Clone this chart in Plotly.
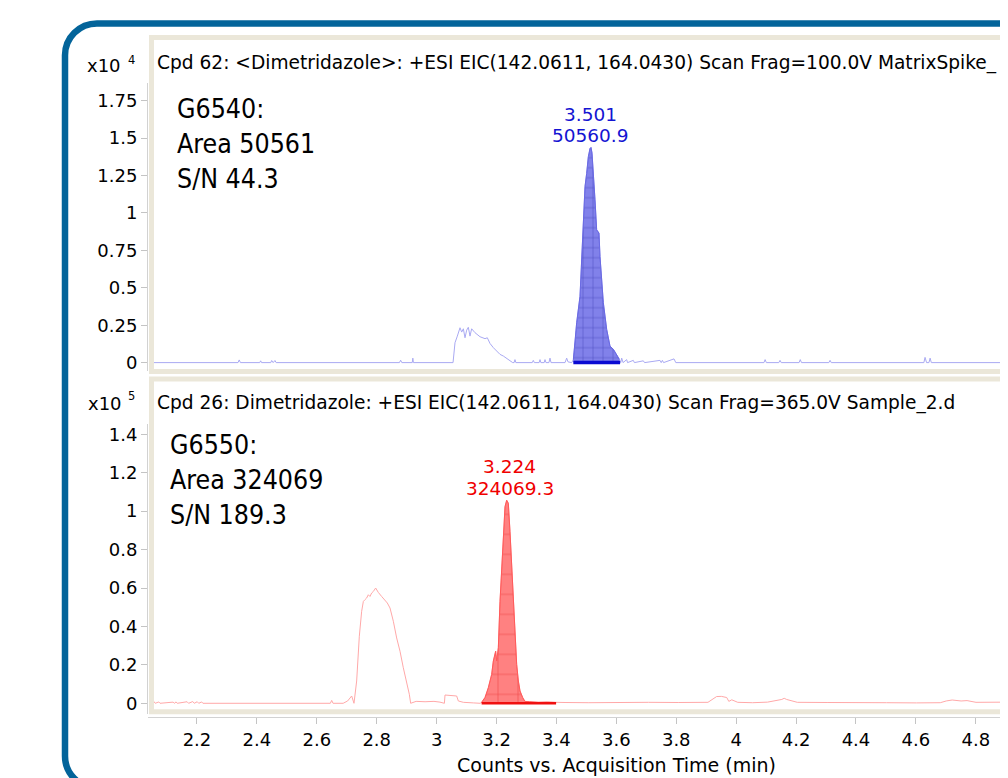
import plotly.graph_objects as go

# The page body has an 8 px margin, so the figure is drawn 8 px in from the window corner.
OFF = 8
W, H = 1008 - OFF, 778 - OFF


def px(x):
    return (x - OFF) / W


def py(y):
    return 1 - (y - OFF) / H


# ---------------- data ----------------
top_time = [2.036, 2.322, 2.326, 2.330, 2.395, 2.398, 2.401, 2.432, 2.435, 2.440, 2.446, 2.450,
            2.864, 2.868, 2.872, 2.907, 2.909, 2.911, 3.044, 3.0506, 3.0584, 3.0674, 3.0730, 3.0786,
            3.0842, 3.0898, 3.0953, 3.1009, 3.1065, 3.1177, 3.1345, 3.1513, 3.1591, 3.1681, 3.1793,
            3.1905, 3.2017, 3.2129, 3.2241, 3.2353, 3.2443, 3.2490, 3.2520, 3.2550, 3.3100, 3.3135,
            3.3170, 3.3330, 3.3360, 3.3390, 3.3500, 3.3528, 3.3560, 3.3660, 3.3696, 3.3730, 3.4200,
            3.4256, 3.4300, 3.4425, 3.4480, 3.4535, 3.4591, 3.4703, 3.4793, 3.4871, 3.4927, 3.4983,
            3.5039, 3.5073, 3.5106, 3.5151, 3.5207, 3.5263, 3.5341, 3.5375, 3.5431, 3.5487, 3.5599,
            3.5711, 3.5823, 3.5935, 3.6025, 3.6070, 3.6103, 3.6150, 3.6270, 3.6300, 3.6493, 3.6530,
            3.6830, 3.6870, 3.7390, 3.7430, 3.7470, 3.7510, 3.7860, 3.7920, 4.088, 4.092, 4.096,
            4.138, 4.142, 4.146, 4.206, 4.210, 4.214, 4.306, 4.310, 4.314, 4.625, 4.629, 4.634,
            4.642, 4.646, 4.650, 4.9075]
top_counts = [0, 0, 180, 0, 0, 120, 0, 0, 140, 0, 140, 0,
              0, 160, 0, 0, 300, 0, 0, 1330, 1770, 2330, 2040, 2260,
              1660, 2170, 2360, 1770, 2260, 2000, 1730, 1600, 1660, 1280, 1000,
              770, 550, 440, 270, 110, 0, 0, 200, 0, 0, 150,
              0, 0, 200, 0, 0, 200, 0, 0, 300, 0, 0,
              300, 50, 0, 200, 1330, 2660, 4430, 8200, 11750, 12640, 13750,
              14300, 14370, 14000, 12200, 10870, 8870, 8650, 7090, 5320, 4000, 2220,
              1100, 890, 550, 220, 0, 300, 0, 200, 0, 150, 0,
              120, 0, 150, 0, 150, 0, 250, 0, 0, 200, 0,
              0, 150, 0, 0, 200, 0, 0, 150, 0, 0, 350, 0,
              0, 300, 0, 0]
top_peak_rt = 3.501
top_peak_area = 50560.9
top_integration = [3.448, 3.605]

bottom_time = [2.036, 2.040, 2.044, 2.056, 2.060, 2.104, 2.108, 2.114, 2.118, 2.151, 2.156, 2.170,
               2.175, 2.185, 2.190, 2.200, 2.204, 2.632, 2.6365, 2.641, 2.675, 2.690, 2.7036, 2.7114,
               2.7204, 2.7260, 2.7293, 2.7372, 2.7428, 2.7480, 2.7539, 2.7595, 2.7651, 2.7707, 2.7763,
               2.7842, 2.7931, 2.8043, 2.8155, 2.8233, 2.8323, 2.8435, 2.8547, 2.8659, 2.8770, 2.8883,
               2.8972, 2.9017, 2.92, 2.95, 2.98, 3.0, 3.015, 3.017, 3.0338, 3.0562, 3.0618, 3.0786,
               3.112, 3.135, 3.1401, 3.1513, 3.1625, 3.1737, 3.1793, 3.1871, 3.1905, 3.1961, 3.2017,
               3.2073, 3.2129, 3.2185, 3.2241, 3.2297, 3.2353, 3.2409, 3.2465, 3.2521, 3.2577, 3.2633,
               3.2689, 3.2778, 3.2852, 3.30, 3.33, 3.36, 3.39, 3.42, 3.5, 3.6, 3.638, 3.7, 3.8, 3.9,
               3.929, 3.945, 3.963, 3.97, 3.98, 4.0, 4.05, 4.10, 4.148, 4.156, 4.164, 4.2, 4.3, 4.4,
               4.5, 4.6, 4.68, 4.70, 4.72, 4.75, 4.77, 4.80, 4.9075]
bottom_counts = [0, 800, 0, 700, 0, 600, 0, 700, 0, 800, 0, 900,
                 0, 800, 0, 700, 0, 0, 1500, 0, 0, 1200, 3800, 0,
                 11600, 28900, 34900, 47900, 53000, 53900, 54800, 56500, 55600, 57400, 58200,
                 60000, 57700, 55600, 53900, 52200, 49600, 42700, 34000, 27100, 18500, 11600,
                 4700, 0, 1000, 800, 1000, 600, 0, 4300, 4100, 3800, 1200, 500,
                 200, 0, 500, 3000, 8100, 15000, 22000, 27100, 22000, 28900, 53000,
                 72000, 91000, 102300, 105700, 104100, 89300, 72000, 49600, 32300, 20200, 11600,
                 6400, 3000, 1000, 800, 500, 600, 400, 400, 300, 400, 800, 500, 400, 500,
                 3500, 3600, 3000, 1000, 1800, 500, 300, 600, 2000, 2600, 2000, 500, 400, 500,
                 300, 200, 300, 1200, 1700, 1200, 1400, 500, 600]
bottom_peak_rt = 3.224
bottom_peak_area = 324069.3
bottom_integration = [3.140, 3.390]

x_ticks = [2.2, 2.4, 2.6, 2.8, 3.0, 3.2, 3.4, 3.6, 3.8, 4.0, 4.2, 4.4, 4.6, 4.8]
x_tick_text = ["2.2", "2.4", "2.6", "2.8", "3", "3.2", "3.4", "3.6", "3.8", "4", "4.2", "4.4", "4.6", "4.8"]
top_y_ticks = [0, 2500, 5000, 7500, 10000, 12500, 15000, 17500]
top_y_text = ["0", "0.25", "0.5", "0.75", "1", "1.25", "1.5", "1.75"]
bottom_y_ticks = [0, 20000, 40000, 60000, 80000, 100000, 120000, 140000]
bottom_y_text = ["0", "0.2", "0.4", "0.6", "0.8", "1", "1.2", "1.4"]

top_title = "Cpd 62: <Dimetridazole>: +ESI EIC(142.0611, 164.0430) Scan Frag=100.0V MatrixSpike_"
bottom_title = "Cpd 26: Dimetridazole: +ESI EIC(142.0611, 164.0430) Scan Frag=365.0V Sample_2.d"
top_info = ["G6540:", "Area 50561", "S/N 44.3"]
bottom_info = ["G6550:", "Area 324069", "S/N 189.3"]
x_title = "Counts vs. Acquisition Time (min)"

# ---------------- styles ----------------
FONT = "DejaVu Sans, Verdana, sans-serif"
COND = "DejaVu Sans Condensed, Liberation Sans Narrow, Arial Narrow, sans-serif"
BEIGE = "#ebe7d9"
BLUE_FRAME = "#03649a"
TOP_LINE = "#a9a9f2"
BOT_LINE = "#ffa8a8"


def peak_slice(t, c, lim):
    xs, ys = [], []
    for a, b in zip(t, c):
        if lim[0] <= a <= lim[1]:
            xs.append(a)
            ys.append(b)
    return xs, ys


fig = go.Figure()

# top chromatogram
fig.add_trace(go.Scatter(x=top_time, y=top_counts, mode="lines", xaxis="x", yaxis="y",
                         line=dict(color=TOP_LINE, width=1), hoverinfo="skip", showlegend=False))
tx, ty = peak_slice(top_time, top_counts, top_integration)
fig.add_trace(go.Scatter(x=tx, y=ty, mode="lines", xaxis="x", yaxis="y", fill="tozeroy",
                         line=dict(color="#6a6ae2", width=1),
                         fillcolor="rgba(70,70,222,0.72)",
                         fillpattern=dict(shape="+", size=10, solidity=0.12,
                                          fgcolor="#2a2aa6", bgcolor="rgba(80,80,226,0.72)"),
                         hoverinfo="skip", showlegend=False))
fig.add_trace(go.Scatter(x=top_integration, y=[0, 0], mode="lines", xaxis="x", yaxis="y",
                         line=dict(color="#0a0ad2", width=3.5), hoverinfo="skip", showlegend=False))

# bottom chromatogram
fig.add_trace(go.Scatter(x=bottom_time, y=bottom_counts, mode="lines", xaxis="x2", yaxis="y2",
                         line=dict(color=BOT_LINE, width=1), hoverinfo="skip", showlegend=False))
bx, by = peak_slice(bottom_time, bottom_counts, bottom_integration)
fig.add_trace(go.Scatter(x=bx, y=by, mode="lines", xaxis="x2", yaxis="y2", fill="tozeroy",
                         line=dict(color="#ff5a5a", width=1),
                         fillcolor="rgba(255,70,70,0.72)",
                         fillpattern=dict(shape="+", size=20, solidity=0.06,
                                          fgcolor="#e01010", bgcolor="rgba(255,80,80,0.72)"),
                         hoverinfo="skip", showlegend=False))
fig.add_trace(go.Scatter(x=bottom_integration, y=[0, 0], mode="lines", xaxis="x2", yaxis="y2",
                         line=dict(color="#f01010", width=2.5), hoverinfo="skip", showlegend=False))
# carrier for the detached time axis
fig.add_trace(go.Scatter(x=[], y=[], xaxis="x3", yaxis="y2", showlegend=False, hoverinfo="skip"))

xr = [2.0197, 4.9075]
tick_font = dict(family=FONT, size=18, color="black")
yaxis_common = dict(showgrid=False, zeroline=False, showline=True, linecolor="#d2d2d2", linewidth=1,
                    ticks="outside", ticklen=6, tickcolor="#c4c4c4", tickwidth=1, tickfont=tick_font,
                    fixedrange=True)

fig.update_layout(
    width=W, height=H,
    margin=dict(l=0, r=0, t=0, b=0),
    paper_bgcolor="white", plot_bgcolor="white",
    showlegend=False,
    xaxis=dict(domain=[px(148), 1], range=xr, visible=False, anchor="y"),
    xaxis2=dict(domain=[px(148), 1], range=xr, visible=False, anchor="y2"),
    xaxis3=dict(domain=[px(153), 1], range=[2.0365, 4.9075], anchor="free", overlaying="x2",
                position=py(719), side="bottom", showgrid=False, zeroline=False, showline=True,
                linecolor="#d2d2d2", linewidth=1, ticks="outside", ticklen=6, tickcolor="#c4c4c4",
                tickvals=x_ticks, ticktext=x_tick_text, tickfont=tick_font, ticklabelstandoff=0),
    yaxis=dict(domain=[py(371), py(82)], range=[-532, 18696], anchor="x",
               tickvals=top_y_ticks, ticktext=top_y_text, **yaxis_common),
    yaxis2=dict(domain=[py(716), py(425)], range=[-5704, 145185], anchor="x2",
                tickvals=bottom_y_ticks, ticktext=bottom_y_text, **yaxis_common),
)

# outer rounded blue frame
r = 32
k = 0.5523 * r
x0, ytop, ybot, xr_ = 65, 22.5, 790, 1030
path = (f"M {px(xr_)},{py(ybot)} L {px(x0 + r)},{py(ybot)} "
        f"C {px(x0 + r - k)},{py(ybot)} {px(x0)},{py(ybot - r + k)} {px(x0)},{py(ybot - r)} "
        f"L {px(x0)},{py(ytop + r)} "
        f"C {px(x0)},{py(ytop + r - k)} {px(x0 + r - k)},{py(ytop)} {px(x0 + r)},{py(ytop)} "
        f"L {px(xr_)},{py(ytop)}")
shapes = [
    dict(type="path", xref="paper", yref="paper", path=path,
         line=dict(color=BLUE_FRAME, width=6.5)),
    dict(type="rect", xref="paper", yref="paper", x0=px(151.5), x1=px(1030), y0=py(372), y1=py(36.5),
         line=dict(color=BEIGE, width=5)),
    dict(type="rect", xref="paper", yref="paper", x0=px(151.5), x1=px(1030), y0=py(713.5), y1=py(379.5),
         line=dict(color=BEIGE, width=5)),
]
fig.update_layout(shapes=shapes)

ann = []


def text(x, y, s, size, family=FONT, color="black", xanchor="left", xref="paper"):
    ann.append(dict(x=x, y=py(y), xref=xref, yref="paper", text=s, showarrow=False,
                    xanchor=xanchor, yanchor="middle", font=dict(family=family, size=size, color=color),
                    borderpad=0))


text(px(156), 62, top_title, 18.6)
text(px(156), 403.5, bottom_title, 18.6)
text(px(121.5), 64.5, "x10", 18, xanchor="right")
text(px(127), 59, "4", 11.5)
text(px(122.5), 404, "x10", 18, xanchor="right")
text(px(127), 397, "5", 11.5)
for i, s in enumerate(top_info):
    text(px(175.5), 108 + 35 * i, s, 26.5, family=COND)
for i, s in enumerate(bottom_info):
    text(px(168.5), 445 + 35 * i, s, 26.5, family=COND)
text(top_peak_rt + 0.004, 113.5, f"{top_peak_rt:.3f}", 18.5, color="#1414d2", xanchor="center", xref="x")
text(top_peak_rt + 0.004, 135, f"{top_peak_area:.1f}", 18.5, color="#1414d2", xanchor="center", xref="x")
text(bottom_peak_rt + 0.01, 467.5, f"{bottom_peak_rt:.3f}", 18.5, color="#f00000", xanchor="center", xref="x2")
text(bottom_peak_rt + 0.01, 489.5, f"{bottom_peak_area:.1f}", 18.5, color="#f00000", xanchor="center", xref="x2")
text(px(616.5), 767, x_title, 19, xanchor="center")
fig.update_layout(annotations=ann)

fig.write_html("out.html")
